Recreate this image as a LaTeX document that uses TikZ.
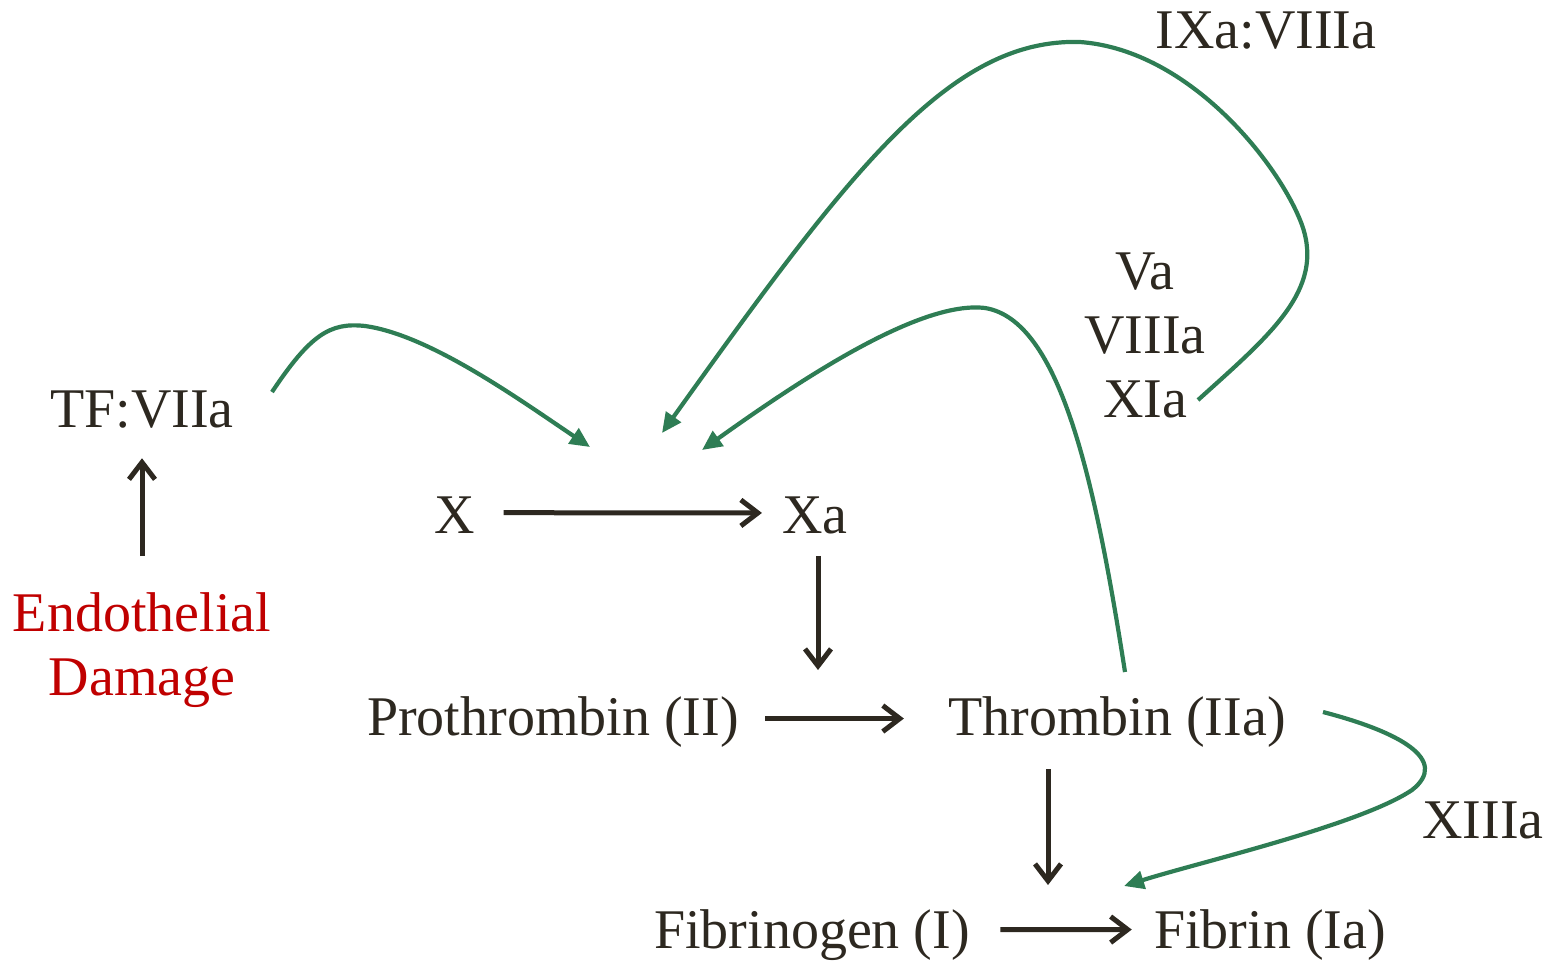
\documentclass[tikz,border=0pt]{standalone}
\usepackage{fontspec}
\setmainfont{Liberation Serif}
\usetikzlibrary{arrows.meta}
\definecolor{ink}{RGB}{45,40,32}
\definecolor{loopgreen}{RGB}{46,125,84}
\definecolor{damagered}{RGB}{192,0,0}

\begin{document}
\begin{tikzpicture}[x=0.5pt, y=-0.5pt,
    every node/.style={font=\fontsize{28}{32}\selectfont, text=ink, inner sep=0pt},
    step arrow/.style={draw=ink, line width=2.5pt, -{Straight Barb[length=8.5pt,width=13pt,line width=2.5pt]}},
    feedback/.style={draw=loopgreen, line width=2.1pt, -{Triangle[length=10pt,width=9pt]}}]
    \useasboundingbox (0,0) rectangle (1546,960);
    \node[anchor=base] (tf) at (142,427) {TF:VIIa};
    \node[align=center, text=damagered] (dmg) at (142,650) {Endothelial\\Damage};
    \node[anchor=base] (x) at (455,533) {X};
    \node[anchor=base] (xa) at (815,533) {Xa};
    \node[anchor=base] (pro) at (553,735) {Prothrombin (II)};
    \node[anchor=base] (thr) at (1117,735) {Thrombin (IIa)};
    \node[anchor=base] (fbg) at (812,948) {Fibrinogen (I)};
    \node[anchor=base] (fbn) at (1270,948) {Fibrin (Ia)};
    \node[anchor=base] (ixa) at (1266,48) {IXa:VIIIa};
    \node[align=center] (cof) at (1145,335) {Va\\VIIIa\\XIa};
    \node[anchor=base] (xiii) at (1483,838) {XIIIa};
    % ends of the cascade arrows
    \coordinate (xaend) at (818,670);
    \coordinate (thrend) at (1048,885);
    \draw[step arrow, shorten <=18pt, shorten >=15pt] (dmg.north) -- (tf.south);
    \draw[step arrow, shorten <=14pt, shorten >=10pt] ([yshift=1pt]x.east) -- ([yshift=1pt]xa.west);
    \draw[step arrow, shorten <=11pt] (xa.south -| xaend) -- (xaend);
    \draw[step arrow, shorten <=13pt, shorten >=22pt] ([yshift=1.5pt]pro.east) -- ([yshift=1.5pt]thr.west);
    \draw[step arrow, shorten <=11pt] (thr.south -| thrend) -- (thrend);
    \draw[step arrow, shorten <=15pt, shorten >=11pt] ([yshift=2.5pt]fbg.east) -- ([yshift=2.5pt]fbn.west);
    % feedback loops
    \coordinate (tfout) at (272,392);
    \coordinate (xin1) at (590,447);
    \coordinate (cofout) at (1198,400);
    \coordinate (xin2) at (662,433);
    \coordinate (throut) at (1125,672);
    \coordinate (xin3) at (702,450);
    \coordinate (thrright) at (1323,712);
    \coordinate (fbnin) at (1124,886);
    \draw[feedback] (tfout) .. controls (310,335) and (330,322) .. (365,326)
        .. controls (430,335) and (520,400) .. (xin1);
    \draw[feedback] (cofout) .. controls (1270,335) and (1325,290) .. (1302,225)
        .. controls (1280,165) and (1190,50) .. (1080,42)
        .. controls (950,38) and (850,170) .. (xin2);
    \draw[feedback] (throut) .. controls (1095,480) and (1060,320) .. (985,308)
        .. controls (920,300) and (800,380) .. (xin3);
    \draw[feedback] (thrright) .. controls (1400,732) and (1450,760) .. (1412,790)
        .. controls (1360,825) and (1200,862) .. (fbnin);
\end{tikzpicture}
\end{document}
